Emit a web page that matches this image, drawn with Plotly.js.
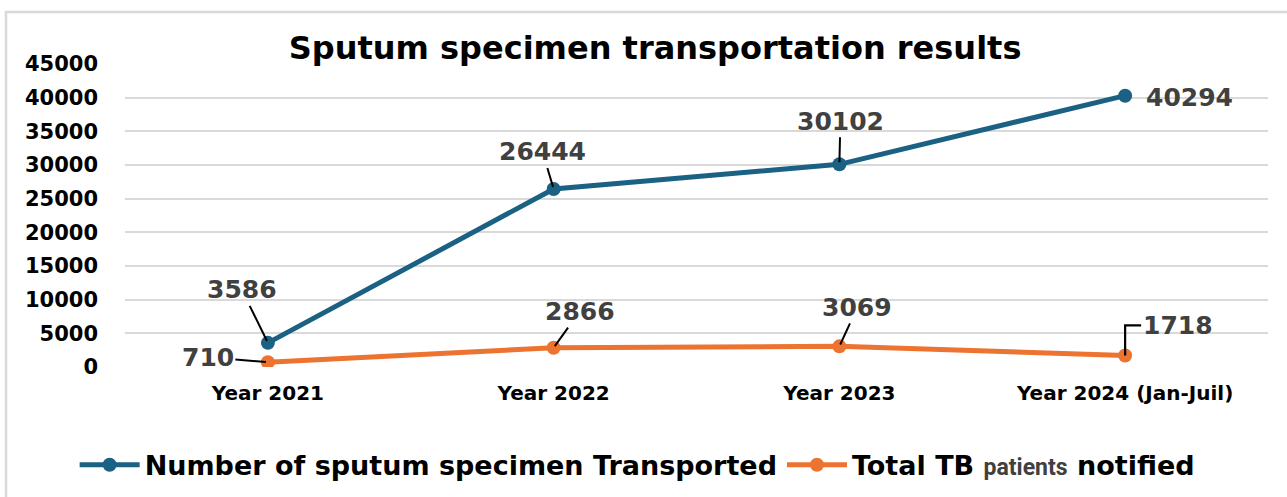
<!DOCTYPE html>
<html>
<head>
<meta charset="utf-8">
<script src="https://cdn.plot.ly/plotly-3.0.1.min.js"></script>
<style>
  html, body { margin: 0; padding: 0; background: #ffffff; }
  #chart { width: 1287px; height: 497px; }
</style>
</head>
<body>
<div id="chart"></div>
<script>
// ---- data ----
const categories = ["Year 2021", "Year 2022", "Year 2023", "Year 2024 (Jan-Juil)"];
const specimensTransported = [3586, 26444, 30102, 40294];
const tbPatientsNotified = [710, 2866, 3069, 1718];
const seriesNames = [
  "Number of sputum specimen Transported",
  "Total TB <span style=\"font-size:23px;color:#404040;font-family:Roboto\">patients</span> notified"
];
const chartTitle = "Sputum specimen transportation results";
const yTicks = [0, 5000, 10000, 15000, 20000, 25000, 30000, 35000, 40000, 45000];

// ---- style ----
const blue = "#1b6183";
const orange = "#ed7331";
const labelFont = {family: "DejaVu Sans", size: 25, color: "#404040"};
// label offsets (pixels from the point to label centre)
const blueOffsets = [[-26, -53, true], [-11, -37, true], [1, -43, true], [64, 2, false]];
const orangeOffsets = [[-60, -5, true], [26, -36, true], [18, -39, true], [53, -30, false]];

const traces = [
  {
    x: categories, y: specimensTransported, name: seriesNames[0],
    type: "scatter", mode: "lines+markers",
    line: {color: blue, width: 5}, marker: {color: blue, size: 14},
    hoverinfo: "skip"
  },
  {
    x: categories, y: tbPatientsNotified, name: seriesNames[1],
    type: "scatter", mode: "lines+markers",
    line: {color: orange, width: 5}, marker: {color: orange, size: 14},
    hoverinfo: "skip"
  }
];

function makeLabels(values, offsets) {
  return values.map((v, i) => ({
    x: categories[i], y: v, xref: "x", yref: "y",
    text: "<b>" + String(v) + "</b>",
    showarrow: true, arrowhead: 0, arrowwidth: 2,
    arrowcolor: offsets[i][2] ? "#000000" : "rgba(0,0,0,0)",
    ax: offsets[i][0], ay: offsets[i][1],
    standoff: 2, startstandoff: 0,
    font: labelFont
  }));
}

const annotations = makeLabels(specimensTransported, blueOffsets)
  .concat(makeLabels(tbPatientsNotified, orangeOffsets));

const shapes = [
  // outer frame
  {type: "rect", xref: "paper", yref: "paper",
   x0: -0.1041, x1: 1.2, y0: -0.6, y1: 1.1716,
   line: {color: "#d9d9d9", width: 2.5}, fillcolor: "rgba(0,0,0,0)", layer: "below"},
  // elbow leader for last orange label
  {type: "path", xref: "x", yref: "y", xsizemode: "pixel", ysizemode: "pixel",
   xanchor: categories[3], yanchor: tbPatientsNotified[3],
   path: "M0,0 V30 H16", line: {color: "#000000", width: 2.2}}
];

const layout = {
  width: 1287, height: 497,
  paper_bgcolor: "#ffffff", plot_bgcolor: "#ffffff",
  margin: {l: 125, r: 19, t: 64, b: 130},
  title: {
    text: "<b>" + chartTitle + "</b>",
    font: {family: "DejaVu Sans", size: 32, color: "#000000"},
    x: 0.509, xref: "container", xanchor: "center",
    y: 0.903, yref: "container", yanchor: "middle"
  },
  xaxis: {
    type: "category", range: [-0.5, 3.5],
    showgrid: false, zeroline: false, showline: false,
    ticks: "", ticklabelstandoff: 12,
    tickfont: {family: "DejaVu Sans", size: 20, color: "#000000", weight: "bold"}
  },
  yaxis: {
    range: [0, 45000], tickvals: yTicks,
    ticktext: yTicks.map(v => "<b>" + v + "</b>"),
    showgrid: true, gridcolor: "#d9d9d9", gridwidth: 2,
    zeroline: false, showline: false, ticks: "",
    ticklabelstandoff: 26,
    tickfont: {family: "DejaVu Sans", size: 21, color: "#000000"}
  },
  showlegend: true,
  legend: {
    orientation: "h", xref: "container", yref: "container",
    x: 0.058, xanchor: "left", y: 0.064, yanchor: "middle",
    font: {family: "DejaVu Sans", size: 27, color: "#000000", weight: "bold"},
    itemwidth: 60, bgcolor: "rgba(0,0,0,0)"
  },
  annotations: annotations,
  shapes: shapes
};

Plotly.newPlot("chart", traces, layout, {displayModeBar: false, staticPlot: true});
</script>
</body>
</html>
